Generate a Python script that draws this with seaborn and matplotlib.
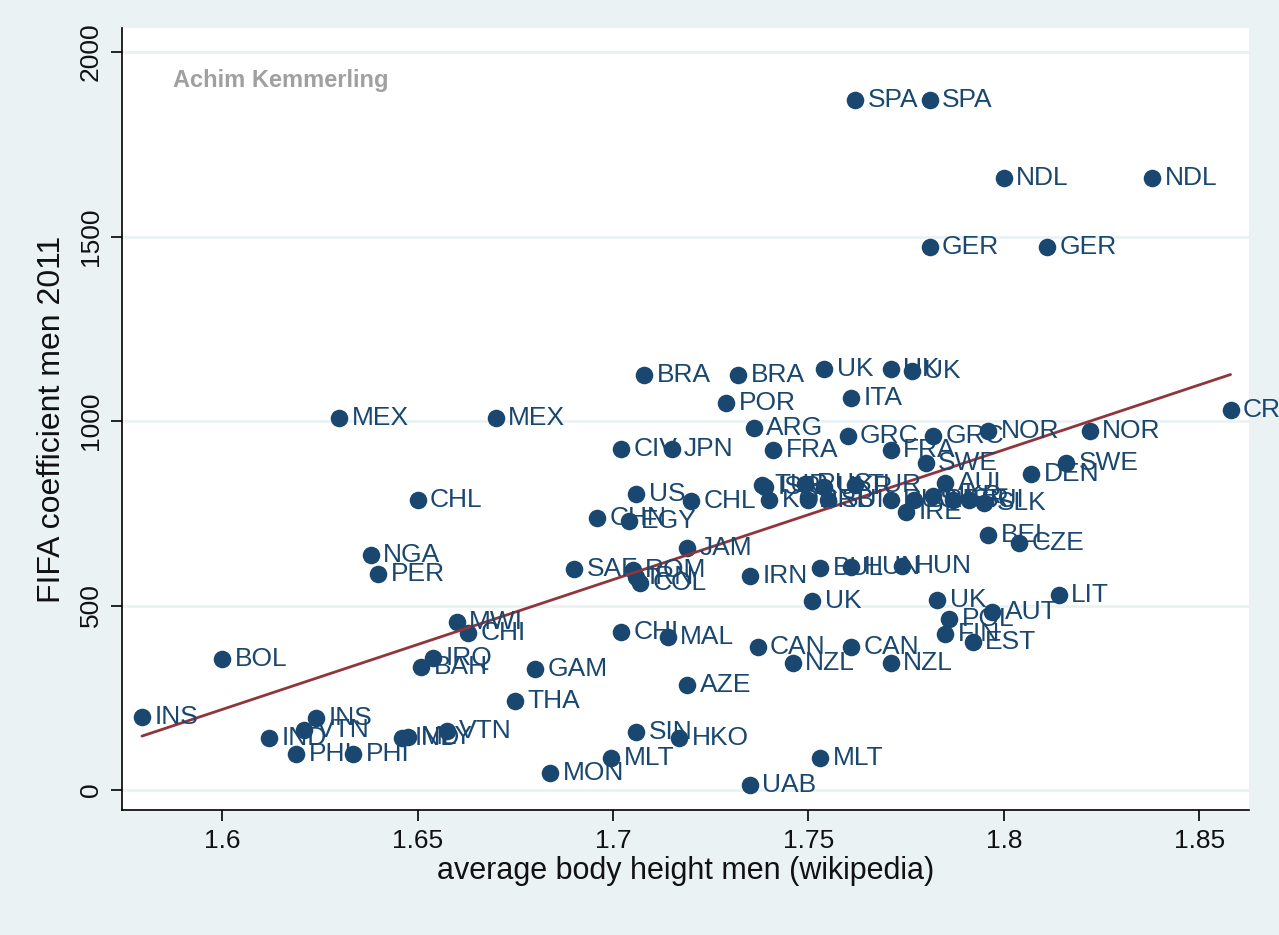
import numpy as np
import pandas as pd
import matplotlib
matplotlib.use('Agg')
import matplotlib.pyplot as plt
import seaborn as sns

# country codes, average body height (m), FIFA coefficient 2011
labels = ['SPA', 'SPA', 'NDL', 'NDL', 'GER', 'GER', 'CRO', 'BRA', 'BRA', 'UK', 'UK', 'UK',
          'ITA', 'POR', 'ARG', 'MEX', 'MEX', 'CIV', 'JPN', 'FRA', 'FRA', 'GRC', 'GRC',
          'NOR', 'NOR', 'SWE', 'SWE', 'DEN', 'CHL', 'CHL', 'US', 'CHN', 'EGY', 'JAM',
          'NGA', 'PER', 'SAF', 'ROM', 'IRN', 'COL', 'IRN', 'BUL', 'HUN', 'HUN', 'UK', 'UK',
          'LIT', 'AUT', 'POL', 'FIN', 'EST', 'BEL', 'CZE', 'IRE', 'SLK', 'AUL',
          'TUR', 'ISR', 'KOR', 'RUS', 'UKR', 'SRB', 'SUI', 'TUR', 'RUS', 'SRB', 'UKR',
          'ISR', 'SUI',
          'BOL', 'INS', 'INS', 'IND', 'VTN', 'PHI', 'PHI', 'IND', 'MLY', 'VTN', 'IRQ',
          'BAH', 'MWI', 'CHI', 'GAM', 'THA', 'AZE', 'SIN', 'HKO', 'MLT', 'MON', 'UAB',
          'MLT', 'CHI', 'MAL', 'CAN', 'NZL', 'CAN', 'NZL']
height = [1.762, 1.781, 1.800, 1.838, 1.781, 1.811, 1.858, 1.708, 1.732, 1.754, 1.771, 1.7765,
          1.761, 1.729, 1.736, 1.630, 1.670, 1.702, 1.715, 1.741, 1.771, 1.760, 1.782,
          1.796, 1.822, 1.780, 1.816, 1.807, 1.650, 1.720, 1.706, 1.696, 1.704, 1.719,
          1.638, 1.640, 1.690, 1.705, 1.706, 1.707, 1.735, 1.753, 1.761, 1.774, 1.751, 1.783,
          1.814, 1.797, 1.786, 1.785, 1.792, 1.796, 1.804, 1.775, 1.795, 1.785,
          1.738, 1.739, 1.740, 1.749, 1.754, 1.750, 1.755, 1.762, 1.771, 1.777, 1.782,
          1.787, 1.791,
          1.600, 1.5795, 1.624, 1.612, 1.621, 1.619, 1.6335, 1.646, 1.6476, 1.6575, 1.654,
          1.651, 1.660, 1.663, 1.680, 1.675, 1.719, 1.706, 1.717, 1.6995, 1.684, 1.735,
          1.753, 1.702, 1.714, 1.737, 1.746, 1.761, 1.771]
fifa = [1870, 1870, 1659, 1659, 1472, 1472, 1030, 1125, 1125, 1141, 1141, 1135,
        1062, 1049, 981, 1008, 1008, 924, 924, 921, 921, 959, 959,
        973, 973, 886, 886, 856, 786, 783, 802, 737, 729, 656,
        637, 585, 599, 596, 577, 561, 580, 602, 604, 607, 512, 515,
        528, 482, 463, 423, 401, 691, 669, 753, 778, 832,
        827, 822, 786, 829, 822, 786, 786, 827, 786, 786, 797,
        786, 786,
        355, 198, 195, 141, 163, 98, 98, 141, 144, 160, 358,
        333, 455, 425, 328, 241, 285, 157, 141, 87, 46, 14,
        87, 428, 415, 388, 344, 388, 344]

x_ticks = [1.6, 1.65, 1.7, 1.75, 1.8, 1.85]
y_ticks = [0, 500, 1000, 1500, 2000]

df = pd.DataFrame({'label': labels, 'height': height, 'fifa': fifa})

navy = '#1a476f'
maroon = '#90353b'
bg = '#eaf2f3'

sns.set_style('white')
plt.rcParams['font.family'] = ['Liberation Sans', 'DejaVu Sans']

fig = plt.figure(figsize=(12.79, 9.35), dpi=100, facecolor=bg)
ax = fig.add_axes([0.0954, 0.1337, 0.8811, 0.8363])
ax.set_facecolor('white')

# light horizontal grid like Stata's s2color scheme
for yt in y_ticks:
    ax.axhline(yt, color=bg, lw=2, zorder=0)

sns.scatterplot(data=df, x='height', y='fifa', color=navy, s=160, edgecolor=navy,
                linewidth=0, ax=ax, zorder=3)
sns.regplot(data=df, x='height', y='fifa', scatter=False, ci=None, ax=ax,
            line_kws={'color': maroon, 'lw': 2, 'zorder': 4})

for lab, xv, yv in zip(labels, height, fifa):
    ax.annotate(lab, (xv, yv), xytext=(9, 0), textcoords='offset points',
                va='center', ha='left', fontsize=19, color=navy, clip_on=False, zorder=5)

ax.text(1.5875, 1905, 'Achim Kemmerling', fontsize=17, color='#a0a0a0', fontweight='bold')

ax.set_xlim(1.5744, 1.8627)
ax.set_ylim(-54, 2065)
ax.set_xticks(x_ticks)
ax.set_xticklabels(['1.6', '1.65', '1.7', '1.75', '1.8', '1.85'])
ax.set_yticks(y_ticks)
ax.set_yticklabels([str(v) for v in y_ticks], rotation=90, va='center')

ax.tick_params(axis='both', which='major', direction='out', length=8, width=1.2,
               color='black', labelsize=19, labelcolor='#111111', pad=6, left=True, bottom=True)
for side in ['top', 'right']:
    ax.spines[side].set_visible(False)
for side in ['left', 'bottom']:
    ax.spines[side].set_color('black')
    ax.spines[side].set_linewidth(1.2)

ax.set_xlabel('average body height men (wikipedia)', fontsize=22, labelpad=2, color='#111111')
ax.set_ylabel('FIFA coefficient men 2011', fontsize=23, labelpad=8, color='#111111')

fig.savefig('out.png', dpi=100, facecolor=bg)
